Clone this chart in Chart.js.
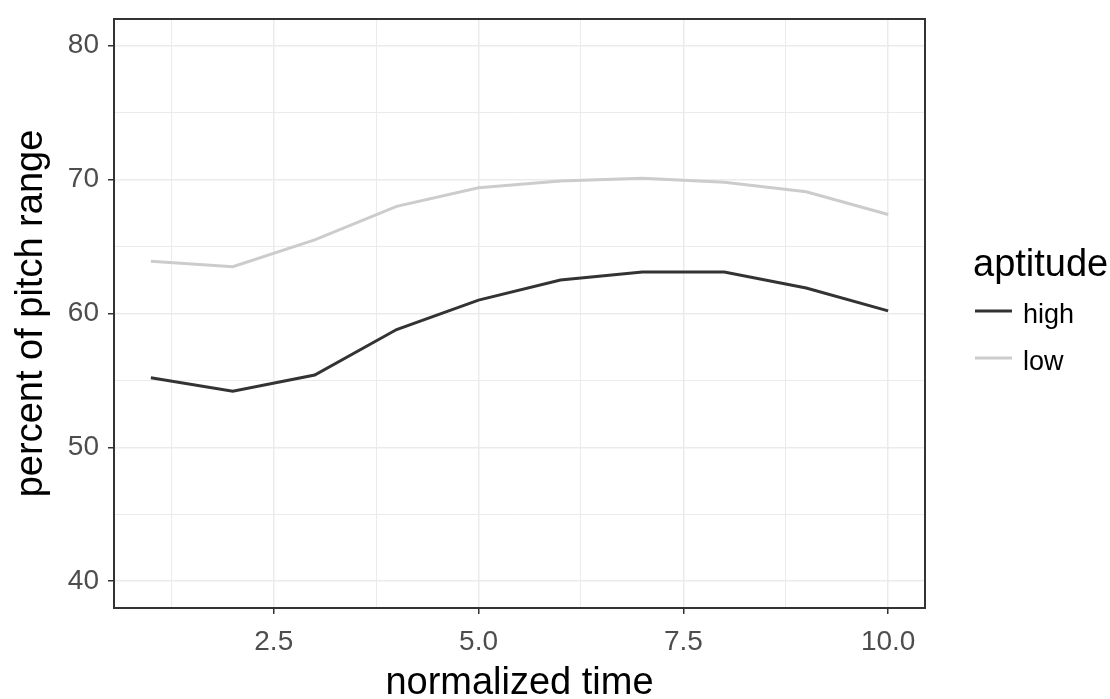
<!DOCTYPE html>
<html>
<head>
<meta charset="utf-8">
<title>percent of pitch range</title>
<script src="https://cdn.jsdelivr.net/npm/chart.js@4.4.1/dist/chart.umd.min.js"></script>
<style>
    html, body { margin: 0; padding: 0; background: #ffffff; }
    #wrap { width: 1110px; height: 699px; }
</style>
</head>
<body>
<div id="wrap"><canvas id="pitchChart" width="1110" height="699"></canvas></div>
<script>
// values
const timeSteps = [1, 2, 3, 4, 5, 6, 7, 8, 9, 10];
const highPitch = [55.2, 54.2, 55.4, 58.8, 61.0, 62.5, 63.1, 63.1, 61.9, 60.2];
const lowPitch = [63.9, 63.5, 65.5, 68.0, 69.4, 69.9, 70.1, 69.8, 69.1, 67.4];
const seriesNames = ['high', 'low'];
const legendTitle = 'aptitude';
const xTicks = [1.25, 2.5, 3.75, 5.0, 6.25, 7.5, 8.75, 10.0];
const yTicks = [40, 45, 50, 55, 60, 65, 70, 75, 80];

const FONT = '"Liberation Sans", Arial, sans-serif';
const lineColors = ['#333333', '#cccccc'];

function toPoints(values) {
    return timeSteps.map((t, i) => ({ x: t, y: values[i] }));
}

// panel border + legend on the right (ggplot style)
const panelPlugin = {
    id: 'panelPlugin',
    afterDraw(chart) {
        const ctx = chart.ctx;
        const a = chart.chartArea;
        ctx.save();
        ctx.strokeStyle = '#333333';
        ctx.lineWidth = 2;
        ctx.strokeRect(a.left, a.top, a.right - a.left, a.bottom - a.top);

        // legend
        ctx.fillStyle = '#000000';
        ctx.textAlign = 'left';
        ctx.textBaseline = 'alphabetic';
        ctx.font = '38px ' + FONT;
        ctx.fillText(legendTitle, 973, 276);

        const rows = [311, 358];
        ctx.font = '27px ' + FONT;
        chart.data.datasets.forEach((ds, i) => {
            ctx.strokeStyle = ds.borderColor;
            ctx.lineWidth = 3;
            ctx.beginPath();
            ctx.moveTo(975, rows[i]);
            ctx.lineTo(1012, rows[i]);
            ctx.stroke();
            ctx.fillStyle = '#000000';
            ctx.fillText(ds.label, 1023, rows[i] + 12);
        });
        ctx.restore();
    }
};

new Chart(document.getElementById('pitchChart'), {
    type: 'line',
    data: {
        datasets: [
            {
                label: seriesNames[0],
                data: toPoints(highPitch),
                borderColor: lineColors[0],
                borderWidth: 3,
                pointRadius: 0,
                tension: 0,
                fill: false
            },
            {
                label: seriesNames[1],
                data: toPoints(lowPitch),
                borderColor: lineColors[1],
                borderWidth: 3,
                pointRadius: 0,
                tension: 0,
                fill: false
            }
        ]
    },
    options: {
        responsive: false,
        animation: false,
        devicePixelRatio: 1,
        layout: {
            padding: { top: 19, right: 185, left: 0, bottom: 0 }
        },
        plugins: {
            legend: { display: false },
            tooltip: { enabled: false }
        },
        scales: {
            x: {
                type: 'linear',
                min: 0.55,
                max: 10.45,
                afterBuildTicks: (scale) => {
                    scale.ticks = xTicks.map(v => ({ value: v }));
                },
                afterFit: (scale) => {
                    scale.height = 91;
                    scale.paddingLeft = 0;
                    scale.paddingRight = 0;
                },
                ticks: {
                    autoSkip: false,
                    maxRotation: 0,
                    padding: 11,
                    color: '#4d4d4d',
                    font: { family: FONT, size: 28 },
                    callback: (v) => (v % 2.5 === 0 ? v.toFixed(1) : '')
                },
                grid: {
                    color: '#ebebeb',
                    lineWidth: (c) => (c.tick && c.tick.value % 2.5 === 0 ? 1.5 : 1),
                    tickColor: (c) => (c.tick && c.tick.value % 2.5 === 0 ? '#333333' : 'rgba(0,0,0,0)'),
                    tickLength: 6,
                    tickWidth: 1.5
                },
                border: { display: false },
                title: {
                    display: true,
                    text: 'normalized time',
                    color: '#000000',
                    font: { family: FONT, size: 38, lineHeight: 1 },
                    padding: { top: 0, bottom: -4 }
                }
            },
            y: {
                type: 'linear',
                min: 38,
                max: 82,
                afterBuildTicks: (scale) => {
                    scale.ticks = yTicks.map(v => ({ value: v }));
                },
                afterFit: (scale) => {
                    scale.width = 114;
                    scale.paddingTop = 0;
                    scale.paddingBottom = 0;
                },
                ticks: {
                    autoSkip: false,
                    padding: 9,
                    color: '#4d4d4d',
                    font: { family: FONT, size: 28 },
                    callback: (v) => (v % 10 === 0 ? String(v) : '')
                },
                grid: {
                    color: '#ebebeb',
                    lineWidth: (c) => (c.tick && c.tick.value % 10 === 0 ? 1.5 : 1),
                    tickColor: (c) => (c.tick && c.tick.value % 10 === 0 ? '#333333' : 'rgba(0,0,0,0)'),
                    tickLength: 6,
                    tickWidth: 1.5
                },
                border: { display: false },
                title: {
                    display: true,
                    text: 'percent of pitch range',
                    color: '#000000',
                    font: { family: FONT, size: 38, lineHeight: 1 },
                    padding: { top: 13, bottom: 0 }
                }
            }
        }
    },
    plugins: [panelPlugin]
});
</script>
</body>
</html>
